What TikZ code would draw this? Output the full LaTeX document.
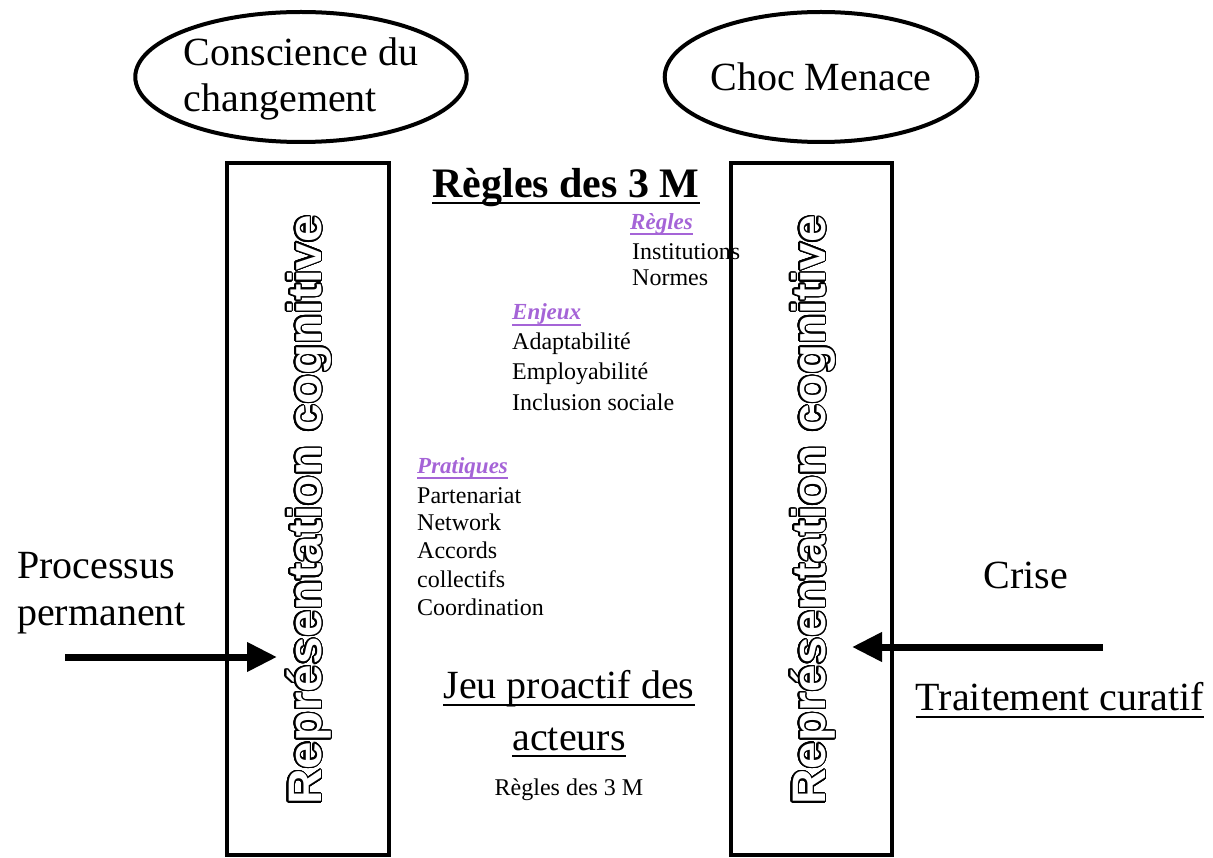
\documentclass[tikz,border=0pt]{standalone}
\usepackage{fontspec}
\setmainfont{Liberation Serif}
\newfontfamily\vsans{Liberation Sans Bold}
\usepackage[copies]{contour}
\usetikzlibrary{shapes.geometric,arrows.meta}
\contourlength{1.3pt}
\contournumber{32}
\definecolor{lilac}{RGB}{165,100,215}
\newcommand{\outlined}[1]{\scalebox{1.05}[1]{\contour{black}{\textcolor{white}{#1}}}}
\tikzset{
  frame/.style={draw=black, line width=4pt},
  bubble/.style={ellipse, draw=black, line width=4pt, inner sep=0pt, align=left,
     font=\fontsize{40}{46}\selectfont},
  big/.style={inner sep=0pt, font=\fontsize{40}{46}\selectfont},
  bigb/.style={inner sep=0pt, font=\bfseries\fontsize{42}{46}\selectfont},
  small/.style={inner sep=0pt, anchor=base west, font=\fontsize{24}{28}\selectfont},
  head/.style={inner sep=0pt, anchor=base west, text=lilac, font=\bfseries\itshape\fontsize{23}{28}\selectfont},
  vtext/.style={rotate=90, anchor=base, inner sep=0pt, font=\fontsize{47}{47}\vsans\selectfont},
  uline/.style={line width=2pt},
  ulinep/.style={line width=1.5pt, draw=lilac},
  bigarrow/.style={line width=7pt, -{Triangle[length=30pt, width=28pt]}},
}
\begin{document}
\begin{tikzpicture}[x=1pt,y=-1pt]
\useasboundingbox (0,0) rectangle (1213,858);
% ellipses
\node[bubble, minimum width=298pt, minimum height=130pt] (e1) at (301,77) {\strut Conscience du\\changement};
\node[bubble, minimum width=302pt, minimum height=130pt] (e2) at (821,77) {Choc Menace};
% texts in middle
\node[bigb, anchor=base] (t1) at (566,198) {Règles des 3 M};
\draw[uline] ([yshift=-5pt]t1.base west) -- ([yshift=-5pt]t1.base east);
\node[head] (h1) at (630,230) {Règles};
\draw[ulinep] ([yshift=-4pt]h1.base west) -- ([yshift=-4pt]h1.base east);
\node[small] (r1) at (632,260) {Institutions};
\node[small] (r2) at (632,286) {Normes};
\node[head] (h2) at (512,320) {Enjeux};
\draw[ulinep] ([yshift=-5pt]h2.base west) -- ([yshift=-5pt]h2.base east);
\node[small] (n1) at (512,350) {Adaptabilité};
\node[small] (n2) at (512,380) {Employabilité};
\node[small] (n3) at (512,410) {Inclusion sociale};
\node[head] (h3) at (417,473) {Pratiques};
\draw[ulinep] ([yshift=-5pt]h3.base west) -- ([yshift=-5pt]h3.base east);
\node[small] (p1) at (417,503) {Partenariat};
\node[small] (p2) at (417,530) {Network};
\node[small] (p3) at (417,558) {Accords};
\node[small] (p4) at (417,587) {collectifs};
\node[small] (p5) at (417,615) {Coordination};
\node[big, anchor=base] (j1) at (569,698) {Jeu proactif des};
\draw[uline] ([yshift=-7pt]j1.base west) -- ([yshift=-7pt]j1.base east);
\node[big, anchor=base] (j2) at (569,750) {acteurs};
\draw[uline] ([yshift=-6pt]j2.base west) -- ([yshift=-6pt]j2.base east);
\node[small, anchor=base] (j3) at (569,795) {Règles des 3 M};
% side texts
\node[big, anchor=base west] (s1) at (17,578) {Processus};
\node[big, anchor=base west] (s2) at (17,625) {permanent};
\node[big, anchor=base] (s3) at (1026,588) {Crise};
\node[big, anchor=base] (s4) at (1060,710) {Traitement curatif};
\draw[uline] ([yshift=-7pt]s4.base west) -- ([yshift=-7pt]s4.base east);
% boxes
\draw[frame] (227,163) rectangle (389,855);
\draw[frame] (731,163) rectangle (892,855);
\node[vtext] (v1) at (321,510) {\outlined{Représentation cognitive}};
\node[vtext] (v2) at (825,510) {\outlined{Représentation cognitive}};
% arrows
\coordinate (a1s) at (65,657);
\coordinate (a1e) at (277,657);
\coordinate (a2s) at (1103,647);
\coordinate (a2e) at (852,647);
\draw[bigarrow] (a1s) -- (a1e);
\draw[bigarrow] (a2s) -- (a2e);
\end{tikzpicture}
\end{document}
